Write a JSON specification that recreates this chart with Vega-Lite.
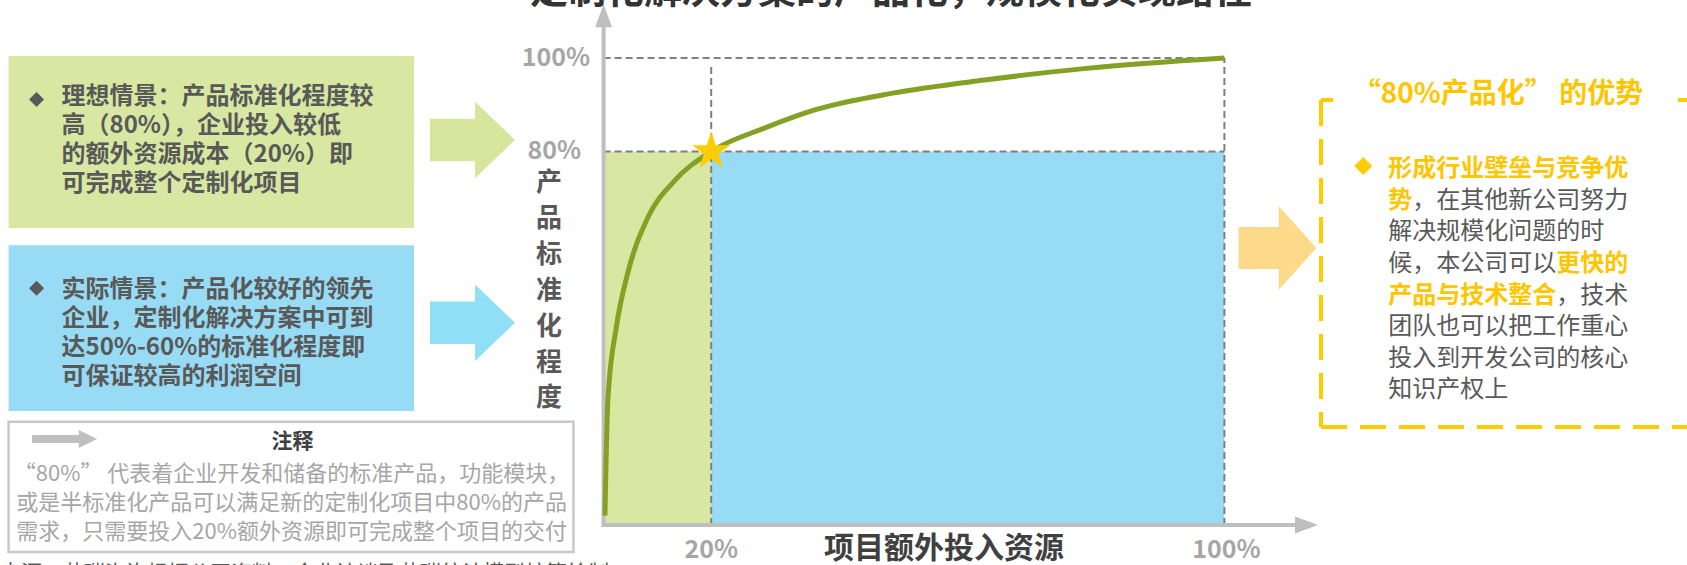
{
  "$schema": "https://vega.github.io/schema/vega-lite/v6.json",
  "width": 1687,
  "height": 565,
  "autosize": {"type": "none"},
  "padding": 0,
  "background": "white",
  "config": {
    "view": {"stroke": null},
    "axis": {"disable": true},
    "font": "Noto Sans CJK SC",
    "text": {"font": "Noto Sans CJK SC"}
  },
  "data": {"values": [{}]},
  "layer": [
    {
      "mark": {"type": "rect", "color": "#d8e8a2"},
      "encoding": {
        "x": {"datum": -110.6, "type": "quantitative", "scale": {"type": "linear", "domain": [0, 20, 100], "range": [603.6, 711.2, 1224.4], "zero": false, "nice": false}},
        "x2": {"datum": -35.24},
        "y": {"datum": 100.45, "type": "quantitative", "scale": {"type": "linear", "domain": [0, 100], "range": [525, 58.1], "zero": false, "nice": false}},
        "y2": {"datum": 63.61}
      }
    },
    {
      "mark": {"type": "rect", "color": "#98dbf4"},
      "encoding": {"x": {"datum": -110.6}, "x2": {"datum": -35.24}, "y": {"datum": 59.91}, "y2": {"datum": 24.42}}
    },
    {
      "mark": {"type": "point", "shape": "M-1,-0.5L0.06,-0.5L0.06,-0.9L1,0L0.06,0.9L0.06,0.5L-1,0.5Z", "size": 7225, "filled": true, "opacity": 1, "strokeWidth": 0, "color": "#d7e69c"},
      "encoding": {"x": {"datum": -24.37}, "y": {"datum": 82.48}}
    },
    {
      "mark": {"type": "point", "shape": "M-1,-0.5L0.06,-0.5L0.06,-0.9L1,0L0.06,0.9L0.06,0.5L-1,0.5Z", "size": 7225, "filled": true, "opacity": 1, "strokeWidth": 0, "color": "#8fdff6"},
      "encoding": {"x": {"datum": -24.37}, "y": {"datum": 43.31}}
    },
    {
      "mark": {"type": "rect", "fill": "white", "stroke": "#c8c8c8", "strokeWidth": 2.5},
      "encoding": {"x": {"datum": -110.6}, "x2": {"datum": -5.6}, "y": {"datum": 22.12}, "y2": {"datum": -5.78}}
    },
    {
      "mark": {"type": "point", "shape": "M-1,-0.12L0.44,-0.12L0.44,-0.28L1,0L0.44,0.28L0.44,0.12L-1,0.12Z", "size": 4225, "filled": true, "opacity": 1, "strokeWidth": 0, "color": "#bfbfbf"},
      "encoding": {"x": {"datum": -100.2}, "y": {"datum": 18.42}}
    },
    {
      "mark": {"type": "text", "text": "注释", "fontSize": 21, "fontWeight": "bold", "color": "#404040", "align": "center", "baseline": "middle"},
      "encoding": {"x": {"datum": -57.81}, "y": {"datum": 17.67}}
    },
    {
      "mark": {"type": "text", "text": ["“80%” 代表着企业开发和储备的标准产品，功能模块，", "或是半标准化产品可以满足新的定制化项目中80%的产品", "需求，只需要投入20%额外资源即可完成整个项目的交付"], "fontSize": 22, "color": "#a6a6a6", "align": "center", "baseline": "top", "lineHeight": 29},
      "encoding": {"x": {"datum": -58.0}, "y": {"datum": 12.98}}
    },
    {
      "mark": {"type": "point", "shape": "diamond", "size": 225, "filled": true, "opacity": 1, "strokeWidth": 0, "color": "#595959"},
      "encoding": {"x": {"datum": -105.4}, "y": {"datum": 91.14}}
    },
    {
      "mark": {"type": "text", "text": ["理想情景：产品标准化程度较", "高（80%），企业投入较低", "的额外资源成本（20%）即", "可完成整个定制化项目"], "fontSize": 24, "fontWeight": "bold", "color": "#595959", "align": "left", "baseline": "top", "lineHeight": 29},
      "encoding": {"x": {"datum": -100.76}, "y": {"datum": 94.26}}
    },
    {
      "mark": {"type": "point", "shape": "diamond", "size": 225, "filled": true, "opacity": 1, "strokeWidth": 0, "color": "#595959"},
      "encoding": {"x": {"datum": -105.4}, "y": {"datum": 50.7}}
    },
    {
      "mark": {"type": "text", "text": ["实际情景：产品化较好的领先", "企业，定制化解决方案中可到", "达50%-60%的标准化程度即", "可保证较高的利润空间"], "fontSize": 24, "fontWeight": "bold", "color": "#595959", "align": "left", "baseline": "top", "lineHeight": 29},
      "encoding": {"x": {"datum": -100.76}, "y": {"datum": 52.8}}
    },
    {
      "mark": {"type": "rect", "color": "#d8e8a2"},
      "encoding": {"x": {"datum": 0}, "x2": {"datum": 20}, "y": {"datum": 0}, "y2": {"datum": 80}}
    },
    {
      "mark": {"type": "rect", "color": "#98dbf4"},
      "encoding": {"x": {"datum": 20}, "x2": {"datum": 100}, "y": {"datum": 0}, "y2": {"datum": 80}}
    },
    {
      "mark": {"type": "rule", "color": "#7f7f7f", "strokeWidth": 2, "strokeDash": [7, 4]},
      "encoding": {"x": {"datum": 0}, "x2": {"datum": 100}, "y": {"datum": 100}}
    },
    {
      "mark": {"type": "rule", "color": "#7f7f7f", "strokeWidth": 2, "strokeDash": [7, 4]},
      "encoding": {"x": {"datum": 0}, "x2": {"datum": 100}, "y": {"datum": 80}}
    },
    {
      "mark": {"type": "rule", "color": "#7f7f7f", "strokeWidth": 2, "strokeDash": [7, 4]},
      "encoding": {"x": {"datum": 20}, "y": {"datum": 0}, "y2": {"datum": 98.6}}
    },
    {
      "mark": {"type": "rule", "color": "#7f7f7f", "strokeWidth": 2, "strokeDash": [7, 4]},
      "encoding": {"x": {"datum": 100}, "y": {"datum": 0}, "y2": {"datum": 100}}
    },
    {
      "mark": {"type": "rule", "color": "#bfbfbf", "strokeWidth": 4},
      "encoding": {"x": {"datum": 0}, "y": {"datum": -0.4}, "y2": {"datum": 106.66}}
    },
    {
      "mark": {"type": "rule", "color": "#bfbfbf", "strokeWidth": 4},
      "encoding": {"x": {"datum": -0.4}, "x2": {"datum": 111.0}, "y": {"datum": 0}}
    },
    {
      "mark": {"type": "point", "shape": "M0,-1L0.74,1L-0.74,1Z", "size": 529, "filled": true, "opacity": 1, "strokeWidth": 0, "color": "#bfbfbf"},
      "encoding": {"x": {"datum": 0}, "y": {"datum": 109.08}}
    },
    {
      "mark": {"type": "point", "shape": "M1,0L-1,0.74L-1,-0.74Z", "size": 529, "filled": true, "opacity": 1, "strokeWidth": 0, "color": "#bfbfbf"},
      "encoding": {"x": {"datum": 112.8}, "y": {"datum": 0}}
    },
    {
      "data": {"values": [
        {"resource": 0.25, "standardization": 2},
        {"resource": 0.8, "standardization": 27},
        {"resource": 2.4, "standardization": 42.6},
        {"resource": 4.5, "standardization": 54},
        {"resource": 8.2, "standardization": 65.8},
        {"resource": 13, "standardization": 73.5},
        {"resource": 20, "standardization": 80},
        {"resource": 28.3, "standardization": 85},
        {"resource": 36.4, "standardization": 89},
        {"resource": 48.3, "standardization": 92.5},
        {"resource": 62.6, "standardization": 95.3},
        {"resource": 78.5, "standardization": 97.8},
        {"resource": 100, "standardization": 100}
      ]},
      "mark": {"type": "line", "color": "#84a125", "strokeWidth": 5, "interpolate": "monotone"},
      "encoding": {
        "x": {"field": "resource", "type": "quantitative"},
        "y": {"field": "standardization", "type": "quantitative"}
      }
    },
    {
      "mark": {"type": "point", "shape": "M0,-1L0.2245,-0.309L0.951,-0.309L0.363,0.118L0.588,0.809L0,0.382L-0.588,0.809L-0.363,0.118L-0.951,-0.309L-0.2245,-0.309Z", "size": 1600, "filled": true, "opacity": 1, "strokeWidth": 0, "color": "#ffcc00"},
      "encoding": {"x": {"datum": 20}, "y": {"datum": 80}}
    },
    {
      "mark": {"type": "text", "text": "100%", "fontSize": 25, "fontWeight": "bold", "color": "#a6a6a6", "align": "right", "baseline": "middle"},
      "encoding": {"x": {"datum": -2.53}, "y": {"datum": 100}}
    },
    {
      "mark": {"type": "text", "text": "80%", "fontSize": 25, "fontWeight": "bold", "color": "#a6a6a6", "align": "right", "baseline": "middle"},
      "encoding": {"x": {"datum": -4.2}, "y": {"datum": 80}}
    },
    {
      "mark": {"type": "text", "text": "20%", "fontSize": 25, "fontWeight": "bold", "color": "#a6a6a6", "align": "center", "baseline": "middle"},
      "encoding": {"x": {"datum": 20}, "y": {"datum": -5.35}}
    },
    {
      "mark": {"type": "text", "text": "100%", "fontSize": 25, "fontWeight": "bold", "color": "#a6a6a6", "align": "center", "baseline": "middle"},
      "encoding": {"x": {"datum": 100.3}, "y": {"datum": -5.35}}
    },
    {
      "mark": {"type": "text", "text": "项目额外投入资源", "fontSize": 30, "fontWeight": "bold", "color": "#404040", "align": "center", "baseline": "middle"},
      "encoding": {"x": {"datum": 56.29}, "y": {"datum": -5.1}}
    },
    {
      "mark": {"type": "text", "text": ["产", "品", "标", "准", "化", "程", "度"], "fontSize": 26, "fontWeight": "bold", "color": "#595959", "align": "center", "baseline": "top", "lineHeight": 35.9},
      "encoding": {"x": {"datum": -10.15}, "y": {"datum": 76.01}}
    },
    {
      "mark": {"type": "text", "text": "定制化解决方案的产品化，规模化实现路径", "fontSize": 38, "fontWeight": "bold", "color": "#333333", "align": "center", "baseline": "alphabetic"},
      "encoding": {"x": {"datum": 48.03}, "y": {"datum": 111.7}}
    },
    {
      "mark": {"type": "point", "shape": "M-1,-0.54L0.03,-0.54L0.03,-1.07L1,0L0.03,1.07L0.03,0.54L-1,0.54Z", "size": 6084, "filled": true, "opacity": 1, "strokeWidth": 0, "color": "#fdd98a"},
      "encoding": {"x": {"datum": 108.28}, "y": {"datum": 59.33}}
    },
    {
      "mark": {"type": "rule", "color": "#ffcc00", "strokeWidth": 4, "strokeDash": [26, 13]},
      "encoding": {"x": {"datum": 115.06}, "y": {"datum": 91.03}, "y2": {"datum": 20.99}}
    },
    {
      "mark": {"type": "rule", "color": "#ffcc00", "strokeWidth": 4, "strokeDash": [26, 13]},
      "encoding": {"x": {"datum": 115.06}, "x2": {"datum": 175}, "y": {"datum": 20.99}}
    },
    {
      "mark": {"type": "rule", "color": "#ffcc00", "strokeWidth": 4},
      "encoding": {"x": {"datum": 115.06}, "x2": {"datum": 116.93}, "y": {"datum": 91.03}}
    },
    {
      "mark": {"type": "rule", "color": "#ffcc00", "strokeWidth": 4},
      "encoding": {"x": {"datum": 170.7}, "x2": {"datum": 175}, "y": {"datum": 91.03}}
    },
    {
      "mark": {"type": "text", "text": "“80%产品化” 的优势", "fontSize": 28, "fontWeight": "bold", "color": "#ffc600", "align": "center", "baseline": "middle"},
      "encoding": {"x": {"datum": 142.65}, "y": {"datum": 92.1}}
    },
    {
      "mark": {"type": "point", "shape": "diamond", "size": 324, "filled": true, "opacity": 1, "strokeWidth": 0, "color": "#ffcc00"},
      "encoding": {"x": {"datum": 121.65}, "y": {"datum": 76.89}}
    },
    {
      "mark": {"type": "text", "text": "形成行业壁垒与竞争优", "fontSize": 24, "fontWeight": "bold", "color": "#ffc600", "align": "left", "baseline": "top"},
      "encoding": {"x": {"datum": 125.55}, "y": {"datum": 78.78}}
    },
    {
      "mark": {"type": "text", "text": "势", "fontSize": 24, "fontWeight": "bold", "color": "#ffc600", "align": "left", "baseline": "top"},
      "encoding": {"x": {"datum": 125.55}, "y": {"datum": 72.01}}
    },
    {
      "mark": {"type": "text", "text": "，在其他新公司努力", "fontSize": 24, "color": "#595959", "align": "left", "baseline": "top"},
      "encoding": {"x": {"datum": 129.29}, "y": {"datum": 72.01}}
    },
    {
      "mark": {"type": "text", "text": ["解决规模化问题的时", "候，本公司可以"], "fontSize": 24, "color": "#595959", "align": "left", "baseline": "top", "lineHeight": 31.6},
      "encoding": {"x": {"datum": 125.55}, "y": {"datum": 65.24}}
    },
    {
      "mark": {"type": "text", "text": "更快的", "fontSize": 24, "fontWeight": "bold", "color": "#ffc600", "align": "left", "baseline": "top"},
      "encoding": {"x": {"datum": 151.74}, "y": {"datum": 58.48}}
    },
    {
      "mark": {"type": "text", "text": "产品与技术整合", "fontSize": 24, "fontWeight": "bold", "color": "#ffc600", "align": "left", "baseline": "top"},
      "encoding": {"x": {"datum": 125.55}, "y": {"datum": 51.71}}
    },
    {
      "mark": {"type": "text", "text": "，技术", "fontSize": 24, "color": "#595959", "align": "left", "baseline": "top"},
      "encoding": {"x": {"datum": 151.74}, "y": {"datum": 51.71}}
    },
    {
      "mark": {"type": "text", "text": ["团队也可以把工作重心", "投入到开发公司的核心", "知识产权上"], "fontSize": 24, "color": "#595959", "align": "left", "baseline": "top", "lineHeight": 31.6},
      "encoding": {"x": {"datum": 125.55}, "y": {"datum": 44.94}}
    },
    {
      "mark": {"type": "text", "text": "来源：艾瑞咨询根据公开资料、企业访谈及艾瑞统计模型核算绘制。", "fontSize": 21, "color": "#595959", "align": "left", "baseline": "top"},
      "encoding": {"x": {"datum": -112.2}, "y": {"datum": -8.14}}
    }
  ]
}
